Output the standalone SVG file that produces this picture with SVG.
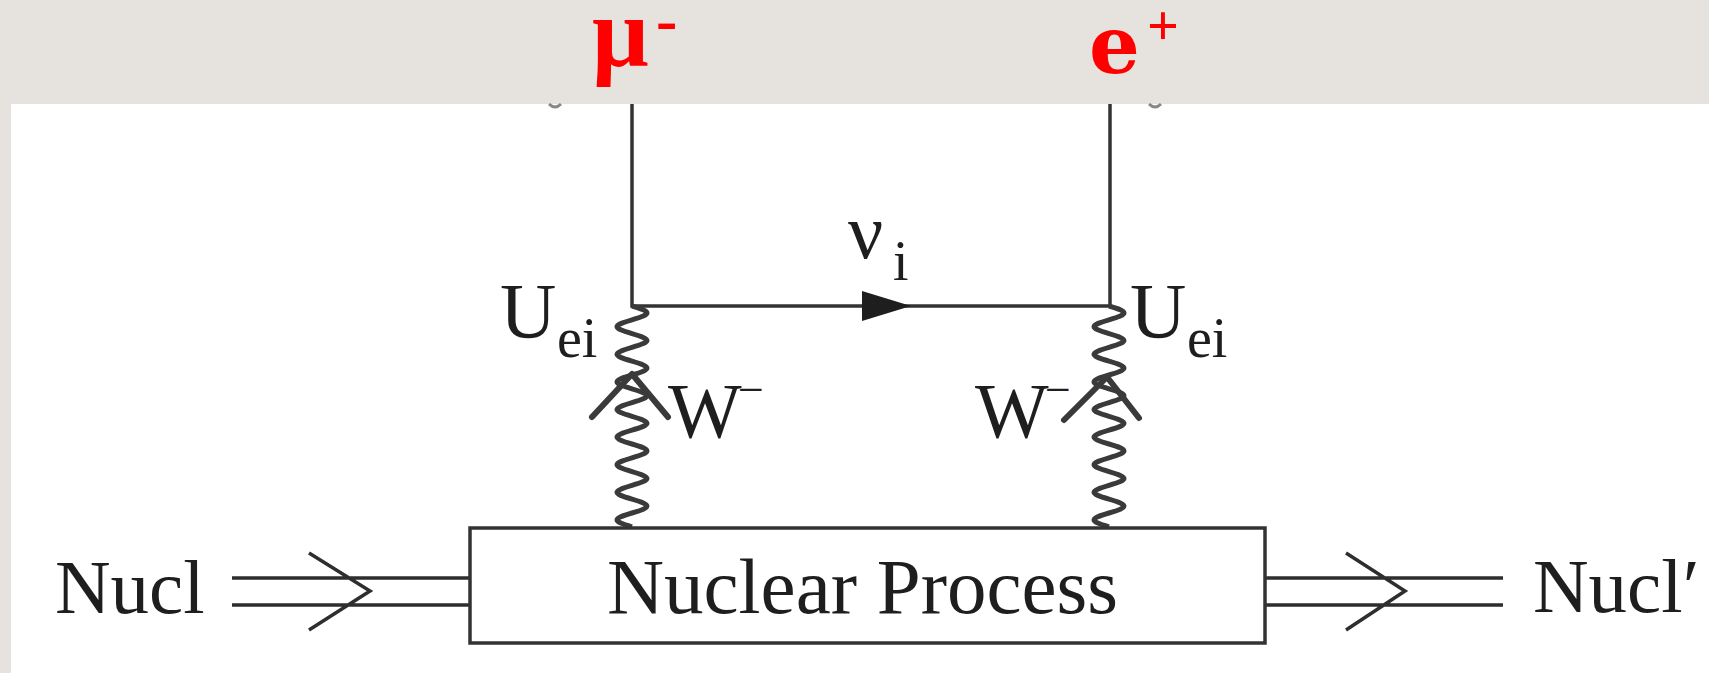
<svg xmlns="http://www.w3.org/2000/svg" width="1709" height="673" viewBox="0 0 1709 673">
<style>
.ln{fill:none;stroke:#333;stroke-width:3.5}
.wv{fill:none;stroke:#3a3a3a;stroke-width:5;stroke-linejoin:round}
.chev{fill:none;stroke:#3a3a3a;stroke-width:6;stroke-linecap:round;stroke-linejoin:round}
.dl{fill:none;stroke:#2e2e2e;stroke-width:3.5}
.tx{font-family:"Liberation Serif","Times New Roman",serif;fill:#1e1e1e}
.red{font-family:"Liberation Serif","Times New Roman",serif;font-weight:bold;fill:#ff0000}
.redw{font-family:"DejaVu Serif",serif;font-weight:bold;fill:#ff0000}
</style>
<defs>
<path id="wave" d="M0,0 c20,5.9 20,7.9 0,13.8 c-20,5.9 -20,7.9 0,13.8 c20,5.9 20,7.9 0,13.8 c-20,5.9 -20,7.9 0,13.8 c20,5.9 20,7.9 0,13.8 c-20,5.9 -20,7.9 0,13.8 c20,5.9 20,7.9 0,13.8 c-20,5.9 -20,7.9 0,13.8 c20,5.9 20,7.9 0,13.8 c-20,5.9 -20,7.9 0,13.8 c20,5.9 20,7.9 0,13.8 c-20,5.9 -20,7.9 0,13.8 c20,5.9 20,7.9 0,13.8 c-20,5.9 -20,7.9 0,13.8 c20,5.9 20,7.9 0,13.8 c-20,5.9 -20,7.9 0,13.8"/>
</defs>
<rect x="0" y="0" width="1709" height="673" fill="#e6e3de"/>
<rect x="11" y="104" width="1698" height="569" fill="#ffffff"/>
<path d="M549,104 q6,6 12,0 M1149,104 q6,6 12,0" fill="none" stroke="#888" stroke-width="3"/>

<g id="connectors">
  <path class="ln" d="M632,104 V306 H1110 V104"/>
  <polygon points="862,291 911,306 862,321" fill="#1e1e1e"/>
  <use href="#wave" class="wv" x="632" y="306"/>
  <use href="#wave" class="wv" x="1109" y="306"/>
  <polyline class="chev" points="592,417 632,374 668,417"/>
  <polyline class="chev" points="1064,420 1107,377 1139,418"/>
  <path class="dl" d="M232,578 H470 M232,605 H470 M309,553 L370,591 L309,630"/>
  <path class="dl" d="M1265,578 H1503 M1265,605 H1503 M1346,553 L1405,591 L1346,630"/>
</g>

<g id="node-muon">
  <text class="red" x="592" y="66" font-size="100">μ<tspan x="656" y="41" font-size="64">-</tspan></text>
</g>
<g id="node-positron">
  <text class="redw" x="1089" y="73" font-size="80">e<tspan class="red" x="1147" y="45" font-size="56">+</tspan></text>
</g>
<g id="node-nu">
  <text class="tx" x="848" y="258" font-size="78">ν<tspan x="893" y="280" font-size="56">i</tspan></text>
</g>
<g id="node-Uei-left">
  <text class="tx" x="500" y="337" font-size="78">U<tspan x="557" y="357" font-size="56">ei</tspan></text>
</g>
<g id="node-Uei-right">
  <text class="tx" x="1130" y="337" font-size="78">U<tspan x="1187" y="357" font-size="56">ei</tspan></text>
</g>
<g id="node-W-left">
  <text class="tx" x="668" y="437" font-size="78">W<tspan x="738" y="405" font-size="46">−</tspan></text>
</g>
<g id="node-W-right">
  <text class="tx" x="975" y="437" font-size="78">W<tspan x="1045" y="405" font-size="46">−</tspan></text>
</g>
<g id="node-nuclear-process">
  <rect x="470" y="528" width="795" height="115" fill="none" stroke="#333" stroke-width="3.5"/>
  <text class="tx" x="607" y="613" font-size="79">Nuclear Process</text>
</g>
<g id="node-nucl-in">
  <text class="tx" x="55" y="613" font-size="77">Nucl</text>
</g>
<g id="node-nucl-out">
  <text class="tx" x="1533" y="612" font-size="77">Nucl′</text>
</g>
</svg>
